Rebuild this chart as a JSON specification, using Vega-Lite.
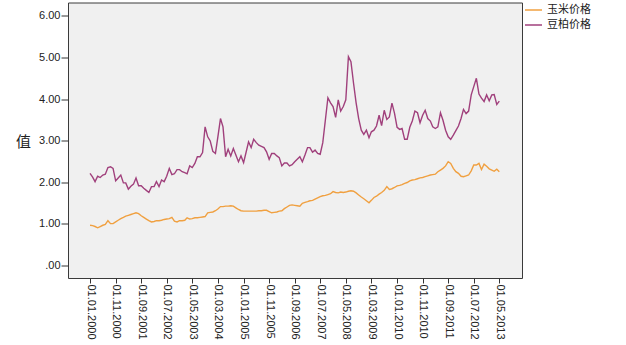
{
"$schema": "https://vega.github.io/schema/vega-lite/v6.json",
"width": 454, "height": 275.5,
"autosize": {"type": "none"},
"padding": {"left": 68, "top": 2.5, "right": 104, "bottom": 67},
"background": "white",
"config": {"view": {"fill": "#f0f0f0", "stroke": "#3a3a3a", "strokeWidth": 1}, "font": "Liberation Sans"},
"data": {"values": [
{"d":"2000-01-01","玉米价格":0.96,"豆柏价格":2.21},
{"d":"2000-02-01","玉米价格":0.95,"豆柏价格":2.12},
{"d":"2000-03-01","玉米价格":0.93,"豆柏价格":2.01},
{"d":"2000-04-01","玉米价格":0.90,"豆柏价格":2.14},
{"d":"2000-05-01","玉米价格":0.93,"豆柏价格":2.11},
{"d":"2000-06-01","玉米价格":0.96,"豆柏价格":2.17},
{"d":"2000-07-01","玉米价格":0.98,"豆柏价格":2.19},
{"d":"2000-08-01","玉米价格":1.07,"豆柏价格":2.35},
{"d":"2000-09-01","玉米价格":1.00,"豆柏价格":2.37},
{"d":"2000-10-01","玉米价格":1.00,"豆柏价格":2.33},
{"d":"2000-11-01","玉米价格":1.04,"豆柏价格":2.03},
{"d":"2000-12-01","玉米价格":1.08,"豆柏价格":2.10},
{"d":"2001-01-01","玉米价格":1.12,"豆柏价格":2.17},
{"d":"2001-02-01","玉米价格":1.15,"豆柏价格":1.98},
{"d":"2001-03-01","玉米价格":1.18,"豆柏价格":1.98},
{"d":"2001-04-01","玉米价格":1.20,"豆柏价格":1.83},
{"d":"2001-05-01","玉米价格":1.22,"豆柏价格":1.90},
{"d":"2001-06-01","玉米价格":1.24,"豆柏价格":1.95},
{"d":"2001-07-01","玉米价格":1.26,"豆柏价格":2.10},
{"d":"2001-08-01","玉米价格":1.24,"豆柏价格":1.91},
{"d":"2001-09-01","玉米价格":1.19,"豆柏价格":1.91},
{"d":"2001-10-01","玉米价格":1.15,"豆柏价格":1.85},
{"d":"2001-11-01","玉米价格":1.11,"豆柏价格":1.80},
{"d":"2001-12-01","玉米价格":1.07,"豆柏价格":1.75},
{"d":"2002-01-01","玉米价格":1.04,"豆柏价格":1.89},
{"d":"2002-02-01","玉米价格":1.05,"豆柏价格":1.89},
{"d":"2002-03-01","玉米价格":1.07,"豆柏价格":2.01},
{"d":"2002-04-01","玉米价格":1.07,"豆柏价格":1.89},
{"d":"2002-05-01","玉米价格":1.08,"豆柏价格":2.05},
{"d":"2002-06-01","玉米价格":1.10,"豆柏价格":2.01},
{"d":"2002-07-01","玉米价格":1.11,"豆柏价格":2.14},
{"d":"2002-08-01","玉米价格":1.12,"豆柏价格":2.33},
{"d":"2002-09-01","玉米价格":1.15,"豆柏价格":2.18},
{"d":"2002-10-01","玉米价格":1.06,"豆柏价格":2.20},
{"d":"2002-11-01","玉米价格":1.04,"豆柏价格":2.30},
{"d":"2002-12-01","玉米价格":1.07,"豆柏价格":2.30},
{"d":"2003-01-01","玉米价格":1.07,"豆柏价格":2.25},
{"d":"2003-02-01","玉米价格":1.08,"豆柏价格":2.23},
{"d":"2003-03-01","玉米价格":1.14,"豆柏价格":2.20},
{"d":"2003-04-01","玉米价格":1.11,"豆柏价格":2.39},
{"d":"2003-05-01","玉米价格":1.12,"豆柏价格":2.35},
{"d":"2003-06-01","玉米价格":1.14,"豆柏价格":2.45},
{"d":"2003-07-01","玉米价格":1.14,"豆柏价格":2.61},
{"d":"2003-08-01","玉米价格":1.15,"豆柏价格":2.61},
{"d":"2003-09-01","玉米价格":1.16,"豆柏价格":2.71},
{"d":"2003-10-01","玉米价格":1.17,"豆柏价格":3.33},
{"d":"2003-11-01","玉米价格":1.26,"豆柏价格":3.09},
{"d":"2003-12-01","玉米价格":1.27,"豆柏价格":2.99},
{"d":"2004-01-01","玉米价格":1.28,"豆柏价格":2.74},
{"d":"2004-02-01","玉米价格":1.31,"豆柏价格":2.69},
{"d":"2004-03-01","玉米价格":1.35,"豆柏价格":3.09},
{"d":"2004-04-01","玉米价格":1.41,"豆柏价格":3.53},
{"d":"2004-05-01","玉米价格":1.41,"豆柏价格":3.33},
{"d":"2004-06-01","玉米价格":1.42,"豆柏价格":2.61},
{"d":"2004-07-01","玉米价格":1.42,"豆柏价格":2.79},
{"d":"2004-08-01","玉米价格":1.43,"豆柏价格":2.63},
{"d":"2004-09-01","玉米价格":1.42,"豆柏价格":2.81},
{"d":"2004-10-01","玉米价格":1.38,"豆柏价格":2.65},
{"d":"2004-11-01","玉米价格":1.34,"豆柏价格":2.49},
{"d":"2004-12-01","玉米价格":1.31,"豆柏价格":2.63},
{"d":"2005-01-01","玉米价格":1.30,"豆柏价格":2.47},
{"d":"2005-02-01","玉米价格":1.30,"豆柏价格":2.73},
{"d":"2005-03-01","玉米价格":1.30,"豆柏价格":2.97},
{"d":"2005-04-01","玉米价格":1.30,"豆柏价格":2.83},
{"d":"2005-05-01","玉米价格":1.30,"豆柏价格":3.03},
{"d":"2005-06-01","玉米价格":1.30,"豆柏价格":2.95},
{"d":"2005-07-01","玉米价格":1.31,"豆柏价格":2.89},
{"d":"2005-08-01","玉米价格":1.31,"豆柏价格":2.86},
{"d":"2005-09-01","玉米价格":1.32,"豆柏价格":2.83},
{"d":"2005-10-01","玉米价格":1.32,"豆柏价格":2.73},
{"d":"2005-11-01","玉米价格":1.29,"豆柏价格":2.55},
{"d":"2005-12-01","玉米价格":1.26,"豆柏价格":2.69},
{"d":"2006-01-01","玉米价格":1.27,"豆柏价格":2.69},
{"d":"2006-02-01","玉米价格":1.28,"豆柏价格":2.63},
{"d":"2006-03-01","玉米价格":1.30,"豆柏价格":2.59},
{"d":"2006-04-01","玉米价格":1.31,"豆柏价格":2.39},
{"d":"2006-05-01","玉米价格":1.36,"豆柏价格":2.46},
{"d":"2006-06-01","玉米价格":1.40,"豆柏价格":2.46},
{"d":"2006-07-01","玉米价格":1.44,"豆柏价格":2.39},
{"d":"2006-08-01","玉米价格":1.45,"豆柏价格":2.42},
{"d":"2006-09-01","玉米价格":1.44,"豆柏价格":2.49},
{"d":"2006-10-01","玉米价格":1.43,"豆柏价格":2.55},
{"d":"2006-11-01","玉米价格":1.42,"豆柏价格":2.61},
{"d":"2006-12-01","玉米价格":1.49,"豆柏价格":2.49},
{"d":"2007-01-01","玉米价格":1.51,"豆柏价格":2.65},
{"d":"2007-02-01","玉米价格":1.53,"豆柏价格":2.83},
{"d":"2007-03-01","玉米价格":1.55,"豆柏价格":2.83},
{"d":"2007-04-01","玉米价格":1.56,"豆柏价格":2.72},
{"d":"2007-05-01","玉米价格":1.59,"豆柏价格":2.77},
{"d":"2007-06-01","玉米价格":1.62,"豆柏价格":2.69},
{"d":"2007-07-01","玉米价格":1.65,"豆柏价格":2.67},
{"d":"2007-08-01","玉米价格":1.67,"豆柏价格":2.95},
{"d":"2007-09-01","玉米价格":1.68,"豆柏价格":3.50},
{"d":"2007-10-01","玉米价格":1.70,"豆柏价格":4.03},
{"d":"2007-11-01","玉米价格":1.72,"豆柏价格":3.91},
{"d":"2007-12-01","玉米价格":1.77,"豆柏价格":3.82},
{"d":"2008-01-01","玉米价格":1.75,"豆柏价格":3.56},
{"d":"2008-02-01","玉米价格":1.74,"豆柏价格":3.98},
{"d":"2008-03-01","玉米价格":1.76,"豆柏价格":3.71},
{"d":"2008-04-01","玉米价格":1.75,"豆柏价格":3.82},
{"d":"2008-05-01","玉米价格":1.76,"豆柏价格":3.98},
{"d":"2008-06-01","玉米价格":1.78,"豆柏价格":5.02},
{"d":"2008-07-01","玉米价格":1.79,"豆柏价格":4.90},
{"d":"2008-08-01","玉米价格":1.78,"豆柏价格":4.38},
{"d":"2008-09-01","玉米价格":1.74,"豆柏价格":3.90},
{"d":"2008-10-01","玉米价格":1.69,"豆柏价格":3.53},
{"d":"2008-11-01","玉米价格":1.64,"豆柏价格":3.25},
{"d":"2008-12-01","玉米价格":1.60,"豆柏价格":3.15},
{"d":"2009-01-01","玉米价格":1.55,"豆柏价格":3.25},
{"d":"2009-02-01","玉米价格":1.50,"豆柏价格":3.07},
{"d":"2009-03-01","玉米价格":1.56,"豆柏价格":3.21},
{"d":"2009-04-01","玉米价格":1.63,"豆柏价格":3.25},
{"d":"2009-05-01","玉米价格":1.66,"豆柏价格":3.35},
{"d":"2009-06-01","玉米价格":1.71,"豆柏价格":3.61},
{"d":"2009-07-01","玉米价格":1.75,"豆柏价格":3.36},
{"d":"2009-08-01","玉米价格":1.80,"豆柏价格":3.73},
{"d":"2009-09-01","玉米价格":1.89,"豆柏价格":3.51},
{"d":"2009-10-01","玉米价格":1.82,"豆柏价格":3.57},
{"d":"2009-11-01","玉米价格":1.84,"豆柏价格":3.90},
{"d":"2009-12-01","玉米价格":1.87,"豆柏价格":3.66},
{"d":"2010-01-01","玉米价格":1.91,"豆柏价格":3.32},
{"d":"2010-02-01","玉米价格":1.92,"豆柏价格":3.27},
{"d":"2010-03-01","玉米价格":1.94,"豆柏价格":3.29},
{"d":"2010-04-01","玉米价格":1.97,"豆柏价格":3.03},
{"d":"2010-05-01","玉米价格":1.99,"豆柏价格":3.03},
{"d":"2010-06-01","玉米价格":2.03,"豆柏价格":3.32},
{"d":"2010-07-01","玉米价格":2.05,"豆柏价格":3.47},
{"d":"2010-08-01","玉米价格":2.06,"豆柏价格":3.71},
{"d":"2010-09-01","玉米价格":2.08,"豆柏价格":3.67},
{"d":"2010-10-01","玉米价格":2.10,"豆柏价格":3.43},
{"d":"2010-11-01","玉米价格":2.11,"豆柏价格":3.61},
{"d":"2010-12-01","玉米价格":2.13,"豆柏价格":3.73},
{"d":"2011-01-01","玉米价格":2.15,"豆柏价格":3.53},
{"d":"2011-02-01","玉米价格":2.17,"豆柏价格":3.47},
{"d":"2011-03-01","玉米价格":2.18,"豆柏价格":3.33},
{"d":"2011-04-01","玉米价格":2.19,"豆柏价格":3.29},
{"d":"2011-05-01","玉米价格":2.25,"豆柏价格":3.33},
{"d":"2011-06-01","玉米价格":2.29,"豆柏价格":3.67},
{"d":"2011-07-01","玉米价格":2.33,"豆柏价格":3.49},
{"d":"2011-08-01","玉米价格":2.39,"豆柏价格":3.25},
{"d":"2011-09-01","玉米价格":2.49,"豆柏价格":3.09},
{"d":"2011-10-01","玉米价格":2.45,"豆柏价格":3.03},
{"d":"2011-11-01","玉米价格":2.33,"豆柏价格":3.13},
{"d":"2011-12-01","玉米价格":2.25,"豆柏价格":3.24},
{"d":"2012-01-01","玉米价格":2.21,"豆柏价格":3.35},
{"d":"2012-02-01","玉米价格":2.14,"豆柏价格":3.53},
{"d":"2012-03-01","玉米价格":2.13,"豆柏价格":3.75},
{"d":"2012-04-01","玉米价格":2.15,"豆柏价格":3.65},
{"d":"2012-05-01","玉米价格":2.17,"豆柏价格":3.71},
{"d":"2012-06-01","玉米价格":2.27,"豆柏价格":4.10},
{"d":"2012-07-01","玉米价格":2.41,"豆柏价格":4.30},
{"d":"2012-08-01","玉米价格":2.41,"豆柏价格":4.50},
{"d":"2012-09-01","玉米价格":2.45,"豆柏价格":4.12},
{"d":"2012-10-01","玉米价格":2.30,"豆柏价格":4.02},
{"d":"2012-11-01","玉米价格":2.43,"豆柏价格":3.94},
{"d":"2012-12-01","玉米价格":2.38,"豆柏价格":4.10},
{"d":"2013-01-01","玉米价格":2.32,"豆柏价格":3.96},
{"d":"2013-02-01","玉米价格":2.29,"豆柏价格":4.10},
{"d":"2013-03-01","玉米价格":2.26,"豆柏价格":4.11},
{"d":"2013-04-01","玉米价格":2.31,"豆柏价格":3.87},
{"d":"2013-05-01","玉米价格":2.25,"豆柏价格":3.95}
]},
"transform": [{"fold": ["玉米价格", "豆柏价格"], "as": ["series", "value"]}],
"mark": {"type": "line", "strokeWidth": 1.4},
"encoding": {
  "x": {"field": "d", "type": "temporal",
    "scale": {"type": "utc", "domain": [{"year": 1999, "month": 4, "date": 14, "utc": true}, {"year": 2014, "month": 1, "date": 26, "utc": true}], "nice": false},
    "axis": {"values": [
        {"year": 2000, "month": 1, "date": 1, "utc": true},
        {"year": 2000, "month": 11, "date": 1, "utc": true},
        {"year": 2001, "month": 9, "date": 1, "utc": true},
        {"year": 2002, "month": 7, "date": 1, "utc": true},
        {"year": 2003, "month": 5, "date": 1, "utc": true},
        {"year": 2004, "month": 3, "date": 1, "utc": true},
        {"year": 2005, "month": 1, "date": 1, "utc": true},
        {"year": 2005, "month": 11, "date": 1, "utc": true},
        {"year": 2006, "month": 9, "date": 1, "utc": true},
        {"year": 2007, "month": 7, "date": 1, "utc": true},
        {"year": 2008, "month": 5, "date": 1, "utc": true},
        {"year": 2009, "month": 3, "date": 1, "utc": true},
        {"year": 2010, "month": 1, "date": 1, "utc": true},
        {"year": 2010, "month": 11, "date": 1, "utc": true},
        {"year": 2011, "month": 9, "date": 1, "utc": true},
        {"year": 2012, "month": 7, "date": 1, "utc": true},
        {"year": 2013, "month": 5, "date": 1, "utc": true}],
      "labelExpr": "utcFormat(datum.value, '%d.%m.%Y')",
      "labelAngle": 90, "labelAlign": "left", "labelBaseline": "middle", "tickSize": 5, "tickColor": "#333", "domain": false,
      "labelPadding": 1, "labelFontSize": 11, "labelColor": "#222", "title": null, "grid": false, "labelOverlap": false, "labelFlush": false}},
  "y": {"field": "value", "type": "quantitative",
    "scale": {"domain": [-0.31, 6.325], "nice": false, "zero": false},
    "axis": {"values": [0, 1, 2, 3, 4, 5, 6], "labelExpr": "datum.value == 0 ? '.00' : format(datum.value, '.2f')",
      "tickSize": 7, "tickColor": "#333", "labelPadding": 1, "labelFontSize": 11, "labelColor": "#222", "domain": false, "grid": false,
      "title": "值", "titleAngle": 0, "titleX": -45, "titleY": 138.5, "titleAlign": "center", "titleBaseline": "middle",
      "titleFont": "Noto Sans CJK SC", "titleFontSize": 15, "titleFontWeight": "normal", "titleColor": "#222"}},
  "color": {"field": "series", "type": "nominal",
    "scale": {"domain": ["玉米价格", "豆柏价格"], "range": ["#f0a040", "#a0407c"]},
    "legend": {"title": null, "orient": "none", "legendX": 456, "legendY": -2, "symbolType": "stroke", "symbolSize": 289,
      "symbolStrokeWidth": 1.5, "labelFont": "Noto Sans CJK SC", "labelFontSize": 11, "labelColor": "#222", "rowPadding": 0, "labelOffset": 4}}
}
}
